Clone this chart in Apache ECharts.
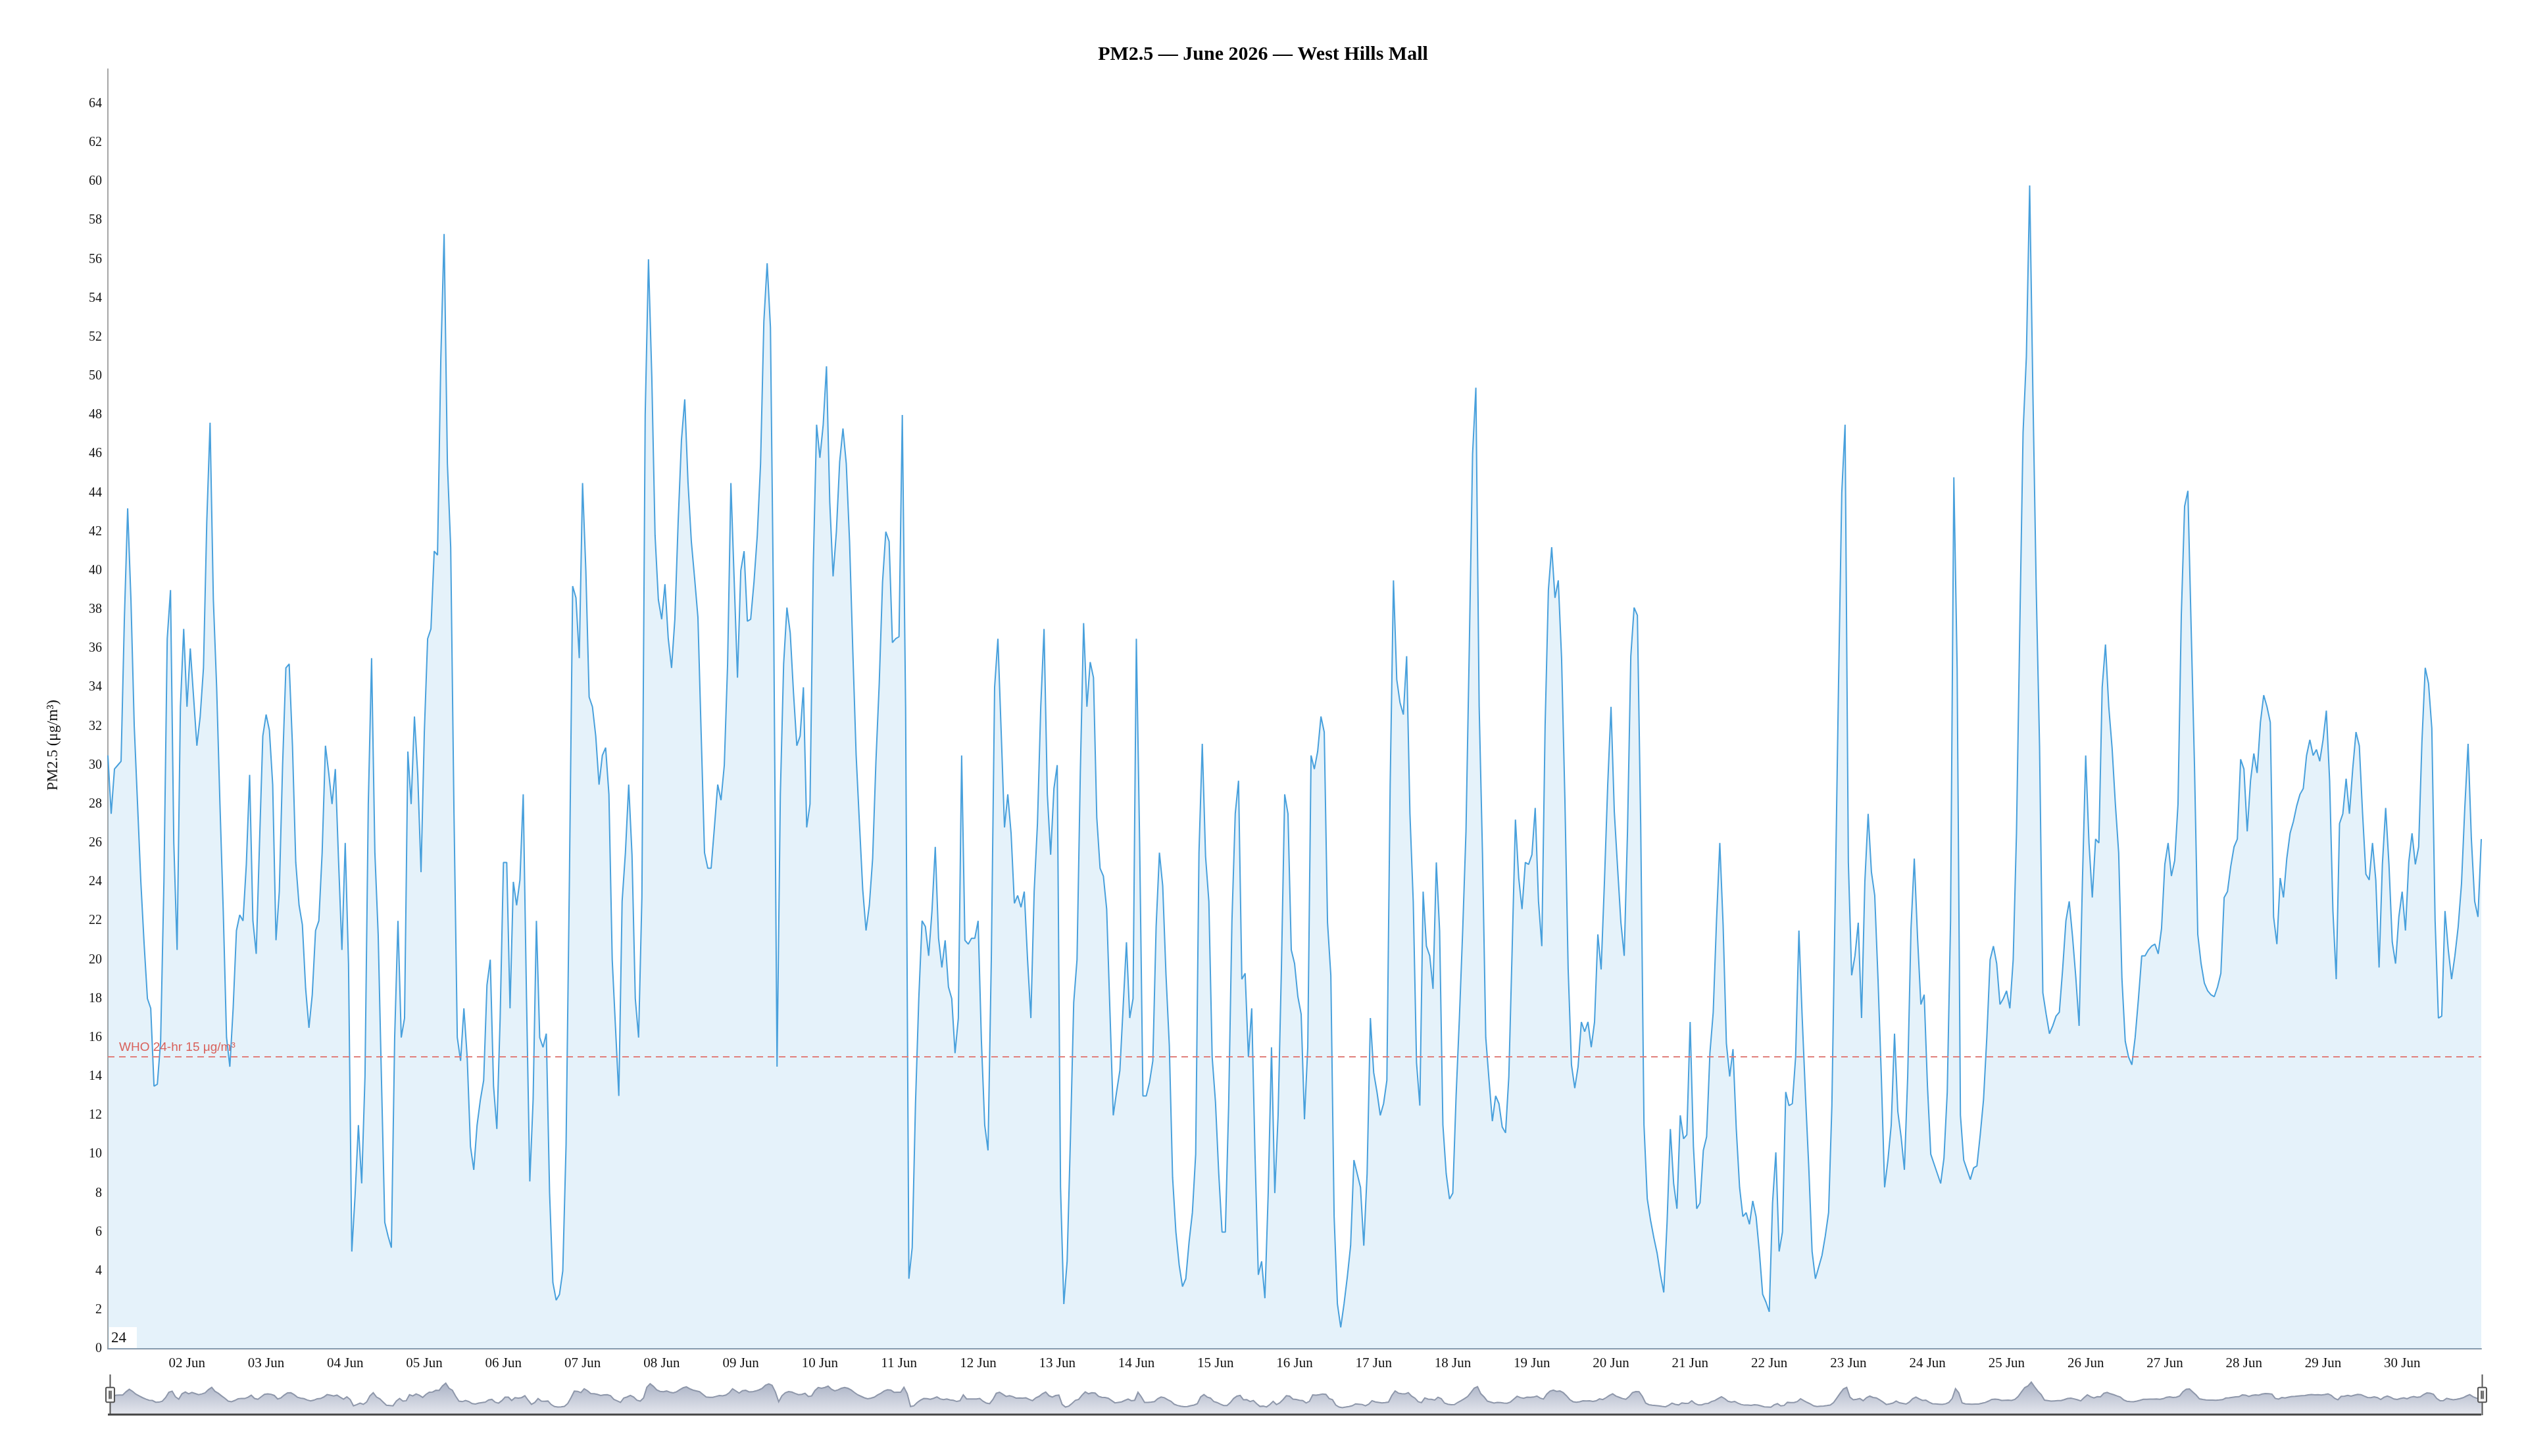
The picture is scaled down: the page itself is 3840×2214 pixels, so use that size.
<!DOCTYPE html>
<html>
<head>
<meta charset="utf-8">
<title>PM2.5 — June 2026 — West Hills Mall</title>
<script src="https://cdn.jsdelivr.net/npm/echarts@6/dist/echarts.min.js"></script>
<style>
  html, body { margin: 0; padding: 0; background: #fff; }
  #chart { width: 3840px; height: 2214px; }
</style>
</head>
<body>
<div id="chart"></div>
<script>
// hourly PM2.5 (µg/m³), one array per day, 00:00 .. 23:00
var jun01 = [30.5, 27.5, 29.8, 30, 30.2, 37.5, 43.2, 38.5, 32, 28, 24, 20.8, 18, 17.5, 13.5, 13.6, 15.8, 24, 36.5, 39, 26, 20.5, 33, 37];
var jun02 = [33, 36, 33.5, 31, 32.5, 35, 42.5, 47.6, 38.5, 34, 28, 22.5, 16, 14.5, 17.5, 21.5, 22.3, 22, 24.9, 29.5, 22, 20.3, 26, 31.5];
var jun03 = [32.6, 31.8, 29, 21, 23.5, 30, 35, 35.2, 31, 25, 22.8, 21.8, 18.5, 16.5, 18.2, 21.5, 22, 25.5, 31, 29.6, 28, 29.8, 25, 20.5];
var jun04 = [26, 19.8, 5, 7.9, 11.5, 8.5, 14, 28, 35.5, 25.5, 21.3, 13.8, 6.5, 5.8, 5.2, 16, 22, 16, 17, 30.7, 28, 32.5, 29.5, 24.5];
var jun05 = [31.7, 36.5, 37, 41, 40.8, 50.9, 57.3, 45.5, 41.2, 27.5, 16, 14.8, 17.5, 15, 10.4, 9.2, 11.5, 12.8, 13.8, 18.7, 20, 13.5, 11.3, 17];
var jun06 = [25, 25, 17.5, 24, 22.8, 24.1, 28.5, 18, 8.6, 12.8, 22, 16, 15.5, 16.2, 8, 3.4, 2.5, 2.8, 4, 10.5, 24, 39.2, 38.6, 35.5];
var jun07 = [44.5, 40, 33.5, 33, 31.5, 29, 30.5, 30.9, 28.5, 20, 16.5, 13, 23, 25.5, 29, 25.4, 18, 16, 23.2, 48, 56, 50, 41.8, 38.5];
var jun08 = [37.5, 39.3, 36.5, 35, 37.5, 42.5, 46.7, 48.8, 44.5, 41.5, 39.6, 37.6, 31.5, 25.5, 24.7, 24.7, 26.8, 29, 28.2, 30, 35.2, 44.5, 39.5, 34.5];
var jun09 = [40, 41, 37.4, 37.5, 39.4, 41.8, 45.5, 52.8, 55.8, 52.5, 37, 14.5, 28.5, 35.2, 38.1, 36.8, 33.7, 31, 31.5, 34, 26.8, 28, 40.3, 47.5];
var jun10 = [45.8, 47.5, 50.5, 43.5, 39.7, 42, 45.6, 47.3, 45.5, 41.5, 35.8, 30.5, 27, 23.6, 21.5, 22.8, 25.2, 30.2, 34.2, 39.4, 42, 41.5, 36.3, 36.5];
var jun11 = [36.6, 48, 33, 3.6, 5.2, 12.6, 18, 22, 21.7, 20.2, 22.5, 25.8, 21.1, 19.6, 21, 18.6, 18, 15.2, 17, 30.5, 21, 20.8, 21.1, 21.1];
var jun12 = [22, 15.8, 11.5, 10.2, 20, 34, 36.5, 31.7, 26.8, 28.5, 26.5, 22.9, 23.3, 22.7, 23.5, 20, 17, 23.5, 27, 33, 37, 28.5, 25.4, 28.8];
var jun13 = [30, 8.3, 2.3, 4.5, 10.8, 17.8, 20, 29.6, 37.3, 33, 35.3, 34.5, 27.3, 24.7, 24.3, 22.6, 17.3, 12, 13.2, 14.3, 17.6, 20.9, 17, 18];
var jun14 = [36.5, 26, 13, 13, 13.7, 14.8, 21.7, 25.5, 23.8, 19.2, 15.6, 8.8, 6, 4.3, 3.2, 3.6, 5.5, 7, 10, 25.5, 31.1, 25.3, 23, 15];
var jun15 = [12.7, 9, 6, 6, 12.5, 22, 27.5, 29.2, 19, 19.3, 15, 17.5, 10, 3.8, 4.5, 2.6, 8, 15.5, 8, 12, 19.5, 28.5, 27.5, 20.5];
var jun16 = [19.8, 18.1, 17.2, 11.8, 15.5, 30.5, 29.8, 30.7, 32.5, 31.7, 21.9, 19.2, 6.8, 2.3, 1.1, 2.3, 3.7, 5.3, 9.7, 9, 8.3, 5.3, 9, 17];
var jun17 = [14.2, 13.2, 12, 12.6, 13.8, 29, 39.5, 34.4, 33.2, 32.6, 35.6, 27.5, 23, 14.7, 12.5, 23.5, 20.7, 20.2, 18.5, 25, 21.5, 11.5, 9, 7.7];
var jun18 = [8, 13, 17, 21.5, 26.6, 36, 46, 49.4, 33, 25.5, 16, 13.8, 11.7, 13, 12.6, 11.4, 11.1, 14, 20.5, 27.2, 24.2, 22.6, 25, 24.9];
var jun19 = [25.4, 27.8, 23, 20.7, 32, 39, 41.2, 38.6, 39.5, 35.5, 28.3, 19.5, 14.6, 13.4, 14.5, 16.8, 16.3, 16.8, 15.5, 16.8, 21.3, 19.5, 24, 29];
var jun20 = [33, 27.6, 24.7, 21.9, 20.2, 26.6, 35.6, 38.1, 37.7, 27, 11.5, 7.7, 6.6, 5.7, 4.9, 3.8, 2.9, 6.5, 11.3, 8.5, 7.2, 12, 10.8, 11];
var jun21 = [16.8, 10.4, 7.2, 7.5, 10.2, 10.9, 15.2, 17.3, 22, 26, 21.8, 15.7, 14, 15.4, 11.3, 8.3, 6.8, 7, 6.4, 7.6, 6.8, 5, 2.8, 2.4];
var jun22 = [1.9, 7.5, 10.1, 5, 6, 13.2, 12.5, 12.6, 15, 21.5, 17, 13, 9.3, 5, 3.6, 4.2, 4.8, 5.8, 7, 12.5, 23, 34, 44, 47.5];
var jun23 = [25, 19.2, 20.2, 21.9, 17, 24, 27.5, 24.5, 23.3, 19, 14, 8.3, 9.7, 11.5, 16.2, 12.2, 10.9, 9.2, 14, 21.6, 25.2, 21.1, 17.7, 18.2];
var jun24 = [13.5, 10, 9.5, 9, 8.5, 9.8, 13.2, 22, 44.8, 35, 12, 9.7, 9.2, 8.7, 9.3, 9.4, 11, 12.8, 16, 20, 20.7, 19.8, 17.7, 18];
var jun25 = [18.4, 17.5, 20, 26.5, 37, 47.1, 51, 59.8, 49, 39, 31, 18.3, 17.2, 16.2, 16.6, 17.1, 17.3, 19.5, 22, 23, 21.2, 19.1, 16.6, 24];
var jun26 = [30.5, 26, 23.2, 26.2, 26, 34, 36.2, 33, 30.9, 28, 25.5, 19, 15.8, 15, 14.6, 16, 18, 20.2, 20.2, 20.5, 20.7, 20.8, 20.3, 21.6];
var jun27 = [24.9, 26, 24.3, 25.1, 28, 37.7, 43.3, 44.1, 37, 30, 21.3, 19.8, 18.8, 18.4, 18.2, 18.1, 18.6, 19.3, 23.2, 23.5, 24.8, 25.8, 26.2, 30.3];
var jun28 = [29.8, 26.6, 29.2, 30.6, 29.6, 32.2, 33.6, 33, 32.2, 22.2, 20.8, 24.2, 23.2, 25.2, 26.5, 27.1, 27.9, 28.5, 28.8, 30.5, 31.3, 30.5, 30.8, 30.2];
var jun29 = [31.3, 32.8, 29.2, 22.5, 19, 27, 27.5, 29.3, 27.5, 29.8, 31.7, 31, 27.5, 24.4, 24.1, 26, 24.1, 19.6, 24.9, 27.8, 24.9, 20.9, 19.8, 22.2];
var jun30 = [23.5, 21.5, 25, 26.5, 24.9, 25.8, 31.2, 35, 34.2, 31.9, 22, 17, 17.1, 22.5, 20.5, 19, 20.2, 21.7, 23.9, 27.8, 31.1, 26.2, 23, 22.2];
var endReading = 26.2; // 01 Jul 00:00, at the right edge

var whoLimit = 15;
var monthNames = ['Jan', 'Feb', 'Mar', 'Apr', 'May', 'Jun', 'Jul', 'Aug', 'Sep', 'Oct', 'Nov', 'Dec'];

var days = [jun01, jun02, jun03, jun04, jun05, jun06, jun07, jun08, jun09, jun10,
            jun11, jun12, jun13, jun14, jun15, jun16, jun17, jun18, jun19, jun20,
            jun21, jun22, jun23, jun24, jun25, jun26, jun27, jun28, jun29, jun30];

var HOUR = 3600 * 1000;
var t0 = new Date(2026, 5, 1).getTime();
var pm25 = [];
days.forEach(function (day, d) {
    day.forEach(function (v, h) {
        pm25.push([t0 + (d * 24 + h) * HOUR, v]);
    });
});
var tEnd = t0 + days.length * 24 * HOUR;
pm25.push([tEnd, endReading]);

var serif = '"Liberation Serif", "Times New Roman", serif';

var chart = echarts.init(document.getElementById('chart'));

var shadowArea = function () {
    return new echarts.graphic.LinearGradient(0, 0, 0, 1, [
        { offset: 0, color: '#e6e8ef' }, { offset: 1, color: '#a9b1c4' }
    ]);
};

var option = {
    animation: false,
    backgroundColor: '#fff',
    title: {
        text: 'PM2.5 — June 2026 — West Hills Mall',
        left: 'center',
        top: 63,
        textStyle: { fontFamily: serif, fontWeight: 'bold', fontSize: 30, color: '#000' }
    },
    grid: { left: 164, right: 68, top: 105, bottom: 163 },
    xAxis: {
        type: 'time',
        min: t0,
        max: tEnd,
        minInterval: 24 * HOUR,
        maxInterval: 24 * HOUR,
        axisLine: { lineStyle: { color: '#8c99a8', width: 2 } },
        axisTick: { show: false },
        splitLine: { show: false },
        axisLabel: {
            fontFamily: serif,
            fontSize: 21,
            color: '#111',
            margin: 12,
            showMinLabel: false,
            showMaxLabel: false,
            formatter: function (val) {
                // first and last day boundaries carry no label in the original
                if (val <= t0 || val >= tEnd) return '';
                var d = new Date(val);
                var dd = d.getDate();
                return (dd < 10 ? '0' + dd : dd) + ' ' + monthNames[d.getMonth()];
            }
        }
    },
    yAxis: {
        type: 'value',
        min: 0,
        max: function (v) { return v.max * 1.1; },
        interval: 2,
        name: 'PM2.5 (μg/m³)',
        nameLocation: 'middle',
        nameGap: 72,
        nameTextStyle: { fontFamily: serif, fontSize: 23, color: '#111', padding: [0, 110, 0, 0] },
        axisLine: { show: true, lineStyle: { color: '#a5a5a5', width: 2 } },
        axisTick: { show: false },
        splitLine: { show: false },
        axisLabel: { fontFamily: serif, fontSize: 20, color: '#111', margin: 9, showMaxLabel: false }
    },
    dataZoom: [{
        type: 'slider',
        xAxisIndex: 0,
        start: 0,
        end: 100,
        left: 164,
        right: 68,
        bottom: 62,
        height: 62,
        backgroundColor: 'transparent',
        borderColor: 'transparent',
        fillerColor: 'rgba(0,0,0,0)',
        showDetail: false,
        brushSelect: false,
        moveHandleSize: 0,
        handleIcon: 'path://M10.5,0V32 M10.5,68V100 M3,32h15a3,3,0,0,1,3,3v30a3,3,0,0,1-3,3h-15a3,3,0,0,1-3-3v-30a3,3,0,0,1,3-3Z M8.5,40V60 M12.5,40V60',
        handleSize: '100%',
        handleStyle: { color: '#f3f3f3', borderColor: '#555', borderWidth: 2 },
        dataBackground: {
            lineStyle: { color: '#8e97aa', width: 2, opacity: 1 },
            areaStyle: { opacity: 1, color: shadowArea() }
        },
        selectedDataBackground: {
            lineStyle: { color: '#8e97aa', width: 2, opacity: 1 },
            areaStyle: { opacity: 1, color: shadowArea() }
        }
    }],
    graphic: [
        { type: 'line', z: 100, shape: { x1: 164, y1: 2151, x2: 3772, y2: 2151 }, style: { stroke: '#444', lineWidth: 3 } },
        { type: 'rect', z: 100, shape: { x: 166, y: 2018, width: 42, height: 32 }, style: { fill: '#fff' } },
        { type: 'text', z: 101, x: 169, y: 2035, style: { text: '24', font: '23px ' + serif, fill: '#111', verticalAlign: 'middle' } }
    ],
    series: [{
        name: 'PM2.5',
        type: 'line',
        data: pm25,
        showSymbol: false,
        symbol: 'none',
        lineStyle: { color: '#48a0dc', width: 2 },
        itemStyle: { color: '#48a0dc' },
        areaStyle: { color: 'rgba(72,160,220,0.2)' },
        markLine: {
            silent: true,
            symbol: ['none', 'none'],
            lineStyle: { color: '#e0807c', type: [10, 7], width: 2 },
            label: {
                show: true,
                position: 'insideStartTop',
                formatter: 'WHO 24-hr 15 μg/m³',
                fontFamily: '"Liberation Sans", Arial, sans-serif',
                fontSize: 19,
                color: '#d9625c',
                padding: [0, 0, 0, 12]
            },
            data: [{ yAxis: whoLimit }]
        }
    }]
};

chart.setOption(option);
</script>
</body>
</html>
